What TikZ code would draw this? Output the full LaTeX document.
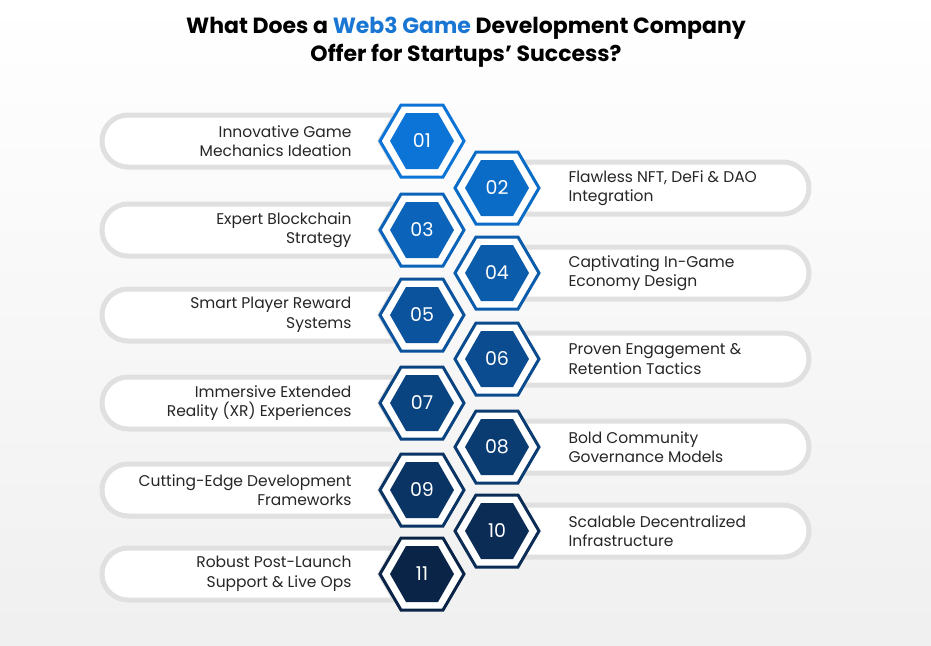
\documentclass[tikz,border=0pt]{standalone}
\usepackage{fontspec}
\setmainfont{Poppins}
\begin{document}
\begin{tikzpicture}[x=1pt,y=-1pt,
  lbl/.style={font=\fontsize{15.5}{19.5}\selectfont, text=black!85},
  num/.style={font=\fontsize{19}{20}\selectfont, text=white},
  pill/.style={draw=black!12, line width=5pt, fill=white}]
\definecolor{bA}{HTML}{0B74D6}
\definecolor{bB}{HTML}{0A2447}
\definecolor{tblue}{HTML}{1976D2}
\shade[top color=white, bottom color=black!6] (0,0) rectangle (931,645);
\useasboundingbox (0,0) rectangle (931,645);
\node[font=\bfseries\fontsize{22}{28}\selectfont, align=center] (title) at (466,42)
  {What Does a \textcolor{tblue}{Web3 Game} Development Company\\Offer for Startups’ Success?};
% pills
\foreach \y/\t [count=\i] in {141/{Innovative Game\\Mechanics Ideation},230/{Expert Blockchain\\Strategy},315/{Smart Player Reward\\Systems},403/{Immersive Extended\\Reality (XR) Experiences},490/{Cutting-Edge Development\\Frameworks},574/{Robust Post-Launch\\Support \& Live Ops}}{
  \draw[pill] (395,\y-26) -- (128,\y-26) arc[start angle=270,end angle=90,radius=26] -- (395,\y+26) -- (380,\y) -- cycle;
  \node[lbl, align=right, anchor=east] (L\i) at (355,\y) {\t};
}
\foreach \y/\t [count=\i] in {188/{Flawless NFT, DeFi \& DAO\\Integration},273/{Captivating In-Game\\Economy Design},359/{Proven Engagement \&\\Retention Tactics},447/{Bold Community\\Governance Models},531/{Scalable Decentralized\\Infrastructure}}{
  \draw[pill] (520,\y-26) -- (783,\y-26) arc[start angle=270,end angle=450,radius=26] -- (520,\y+26) -- (535,\y) -- cycle;
  \node[lbl, align=left, anchor=west] (R\i) at (565,\y) {\t};
}
% hexagons
\foreach \n/\x/\y/\p in {01/422/141/0,02/497/188/10,03/422/230/20,04/497/273/30,05/422/315/40,06/497/359/50,07/422/403/60,08/497/447/70,09/422/490/80,10/497/531/90,11/422/574/100}{
  \colorlet{hc}{bB!\p!bA}
  \fill[white, draw=hc, line width=3pt] (\x-42,\y) -- (\x-21,\y-36) -- (\x+21,\y-36) -- (\x+42,\y) -- (\x+21,\y+36) -- (\x-21,\y+36) -- cycle;
  \fill[hc] (\x-32,\y) -- (\x-16,\y-28) -- (\x+16,\y-28) -- (\x+32,\y) -- (\x+16,\y+28) -- (\x-16,\y+28) -- cycle;
  \node[num] (H\n) at (\x,\y) {\n};
}
\end{tikzpicture}
\end{document}
